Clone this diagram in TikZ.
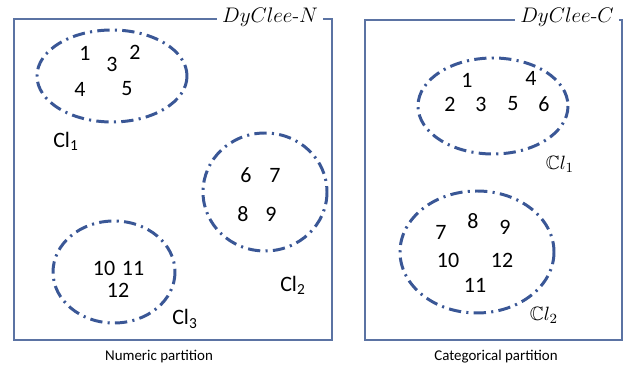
\documentclass[tikz,border=0pt]{standalone}
\usepackage{amsmath}
\usepackage{amssymb}
\usepackage{fontspec}
\newfontfamily\calib{Carlito}
\usetikzlibrary{positioning}
\definecolor{boxblue}{HTML}{5B73A3}
\definecolor{clublue}{HTML}{3A5796}
\tikzstyle{frame} = [draw=boxblue, line width=0.9pt]
\tikzstyle{cluster} = [draw=clublue, line width=1.7pt,
  dash pattern=on 7pt off 3pt on 1.2pt off 3pt]

\begin{document}
\begin{tikzpicture}[x=0.02cm, y=-0.02cm]
\tikzstyle{every node}=[inner sep=1pt]
\tikzstyle{elem} = [font=\calib\fontsize{12.5}{14}\selectfont]
\tikzstyle{clname} = [font=\calib\fontsize{12.5}{14}\selectfont]
\tikzstyle{title} = [fill=white, inner sep=3pt, font=\fontsize{11.5}{13}\selectfont]
\tikzstyle{caption} = [font=\calib\fontsize{8.5}{10}\selectfont]

\useasboundingbox (0,0) rectangle (639,367);

% the two partitions
\draw[frame] (14,19) rectangle (332,340);
\draw[frame] (365,20) rectangle (622,340);
\node[title](tn) at (270,17) {$DyClee$-$N$};
\node[title](tc) at (567,17) {$DyClee$-$C$};

% numeric clusters
\draw[cluster] (112,76) ellipse (75 and 46);
\draw[cluster] (265,192) ellipse (62 and 59);
\draw[cluster] (114,272) ellipse (61 and 51);

\node[elem](n1) at (85,53) {1};
\node[elem](n2) at (135,52) {2};
\node[elem](n3) at (112,64) {3};
\node[elem](n4) at (80,89) {4};
\node[elem](n5) at (127,89) {5};
\node[elem](n6) at (246,175) {6};
\node[elem](n7) at (275,175) {7};
\node[elem](n8) at (243,214) {8};
\node[elem](n9) at (271,214) {9};
\node[elem](n10) at (104,268) {10};
\node[elem](n11) at (133,268) {11};
\node[elem](n12) at (118,290) {12};

\node[clname](cl1) at (66,141) {Cl\textsubscript{1}};
\node[clname](cl2) at (293,285) {Cl\textsubscript{2}};
\node[clname](cl3) at (185,319) {Cl\textsubscript{3}};

% categorical clusters
\draw[cluster] (493,106) ellipse (75 and 48);
\draw[cluster] (477,252) ellipse (77 and 61);

\node[elem](c1) at (467,80) {1};
\node[elem](c4) at (531,78) {4};
\node[elem](c2) at (450,104) {2};
\node[elem](c3) at (481,104) {3};
\node[elem](c5) at (513,104) {5};
\node[elem](c6) at (544,104) {6};
\node[elem](c7) at (441,232) {7};
\node[elem](c8) at (473,221) {8};
\node[elem](c9) at (505,227) {9};
\node[elem](c10) at (448,260) {10};
\node[elem](c12) at (502,260) {12};
\node[elem](c11) at (475,285) {11};

\node[font=\fontsize{11}{13}\selectfont](cc1) at (560,164) {$\mathbb{C}l_1$};
\node[font=\fontsize{11}{13}\selectfont](cc2) at (544,315) {$\mathbb{C}l_2$};

\node[caption](capn) at (159,357) {Numeric partition};
\node[caption](capc) at (496,357) {Categorical partition};
\end{tikzpicture}
\end{document}
